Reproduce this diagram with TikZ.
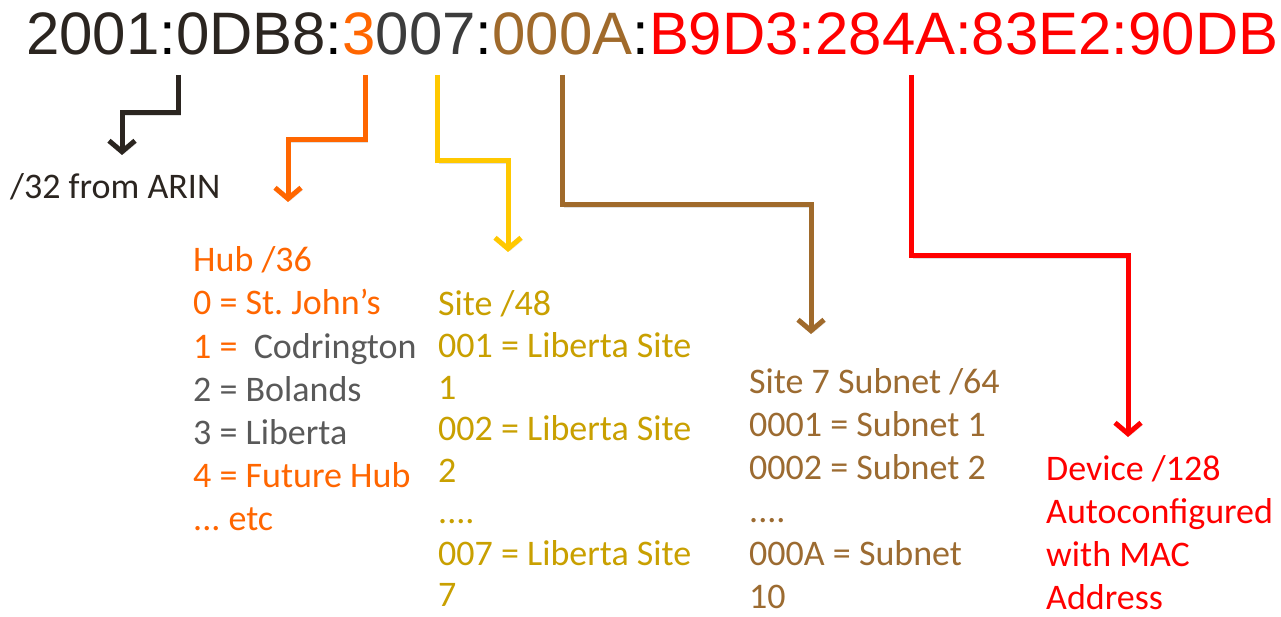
\documentclass[tikz,border=0pt]{standalone}
\usepackage{fontspec}
\setmainfont{Carlito}
\newfontfamily\hdrfont{Liberation Sans}
\usetikzlibrary{arrows.meta}
\definecolor{hdark}{HTML}{2B2520}
\definecolor{dgray}{HTML}{3C3C3C}
\definecolor{orng}{HTML}{FF6600}
\definecolor{yarr}{HTML}{FFC800}
\definecolor{gold}{HTML}{C9A000}
\definecolor{brn}{HTML}{A06A2B}
\definecolor{brntxt}{HTML}{9C6B31}
\definecolor{redc}{HTML}{FF0000}
\definecolor{gtxt}{HTML}{595959}
\tikzset{
  arr/.style={line width=5pt, -{Straight Barb[length=11pt,width=26pt]},
    preaction={draw=black, draw opacity=0.12, transform canvas={shift={(2pt,-2pt)}}}},
  lbl/.style={anchor=base west, inner sep=0pt, font=\fontsize{36}{43}\selectfont},
}
\begin{document}
\begin{tikzpicture}[x=1pt,y=1pt]
\useasboundingbox[fill=white] (0,0) rectangle (1281,-617);
% header
\node[anchor=base west, inner sep=0pt, font=\hdrfont\fontsize{59.9}{60}\selectfont] (hdr) at (26,-55)
 {{\color{hdark}2001}{\color{black}:}{\color{hdark}0DB8}{\color{black}:}{\color{orng}3}{\color{dgray}007}{\color{black}:}{\color{brn}000A}{\color{black}:}{\color{redc}B9D3:284A:83E2:90DB}};
% start coordinates
\coordinate (s1) at (178,-75);
\coordinate (s2) at (365,-75);
\coordinate (s3) at (437,-75);
\coordinate (s4) at (562,-75);
\coordinate (s5) at (911,-75);
% end coordinates
\coordinate (e1) at (122,-155);
\coordinate (e2) at (288,-202);
\coordinate (e3) at (508,-252);
\coordinate (e4) at (811,-334);
\coordinate (e5) at (1128,-437);
% arrows
\draw[arr, hdark] (s1) -- (s1 |- 0,-113) -| (e1);
\draw[arr, orng] (s2) -- (s2 |- 0,-140) -| (e2);
\draw[arr, yarr] (s3) -- (s3 |- 0,-161) -| (e3);
\draw[arr, brn] (s4) -- (s4 |- 0,-205) -| (e4);
\draw[arr, redc] (s5) -- (s5 |- 0,-256) -| (e5);
% /32
\node[lbl, hdark] (arin) at (10,-199) {/32 from ARIN};
% hub
\node[lbl, orng] (hub0) at (193,-272) {Hub /36};
\node[lbl, orng] (hub1) at (193,-315) {0 = St.\ John’s};
\node[lbl, orng] (hub2) at (193,-358) {1 =\ \ \textcolor{gtxt}{Codrington}};
\node[lbl, gtxt] (hub3) at (193,-401) {2 = Bolands};
\node[lbl, gtxt] (hub4) at (193,-444) {3 = Liberta};
\node[lbl, orng] (hub5) at (193,-487) {4 = Future Hub};
\node[lbl, orng] (hub6) at (193,-530) {...\ etc};
% site
\node[lbl, gold] (site0) at (438,-316) {Site /48};
\node[lbl, gold] (site1) at (438,-357.5) {001 = Liberta Site};
\node[lbl, gold] (site2) at (438,-399) {1};
\node[lbl, gold] (site3) at (438,-440.5) {002 = Liberta Site};
\node[lbl, gold] (site4) at (438,-482) {2};
\node[lbl, gold] (site5) at (438,-523.5) {....};
\node[lbl, gold] (site6) at (438,-565) {007 = Liberta Site};
\node[lbl, gold] (site7) at (438,-606.5) {7};
% subnet
\node[lbl, brntxt] (sub0) at (749,-393) {Site 7 Subnet /64};
\node[lbl, brntxt] (sub1) at (749,-436) {0001 = Subnet 1};
\node[lbl, brntxt] (sub2) at (749,-479) {0002 = Subnet 2};
\node[lbl, brntxt] (sub3) at (749,-522) {....};
\node[lbl, brntxt] (sub4) at (749,-565) {000A = Subnet};
\node[lbl, brntxt] (sub5) at (749,-608) {10};
% device
\node[lbl, redc] (dev0) at (1046,-480) {Device /128};
\node[lbl, redc] (dev1) at (1046,-523) {Autoconfigured};
\node[lbl, redc] (dev2) at (1046,-566) {with MAC};
\node[lbl, redc] (dev3) at (1046,-609) {Address};
\end{tikzpicture}
\end{document}
